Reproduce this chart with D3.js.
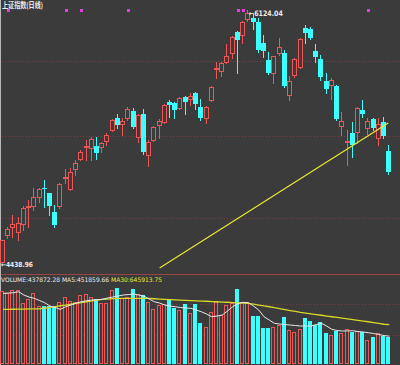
<!DOCTYPE html>
<html><head><meta charset="utf-8">
<script src="https://cdn.jsdelivr.net/npm/d3@7"></script>
<style>html,body{margin:0;padding:0;background:#3b3b3b;}svg{display:block}</style>
</head><body>
<svg id="c" width="400" height="365"></svg>
<script>
const title = "上证指数(日线)";
const opens  = [4439.0,4619.5,4673.0,4639.6,4693.1,4806.7,4813.4,4873.6,4933.8,4900.4,4773.3,4813.4,5000.7,4927.1,5060.8,5127.7,5208.0,5201.3,5214.6,5208.0,5248.1,5321.6,5401.9,5361.8,5401.9,5448.7,5274.8,5428.6,5154.5,5254.8,5355.1,5375.1,5508.9,5502.2,5468.7,5542.3,5528.9,5569.0,5475.4,5401.9,5522.2,5729.5,5716.2,5776.3,5836.5,5976.9,5956.9,6063.9,6070.5,6043.8,5903.4,5789.7,5702.8,5836.5,5836.5,5555.7,5689.4,5742.9,6003.7,5997.0,5849.9,5796.4,5649.3,5622.5,5615.9,5348.4,5241.4,5301.6,5308.3,5455.4,5335.0,5395.2,5268.1,5375.1,5181.2];
const highs  = [4586.1,4673.0,4753.2,4739.9,4813.4,4853.5,4933.8,4933.8,4987.3,4900.4,4820.1,4967.2,5060.8,5067.5,5121.0,5187.9,5254.8,5274.8,5274.8,5241.4,5301.6,5395.2,5428.6,5401.9,5475.4,5468.7,5428.6,5462.1,5254.8,5348.4,5395.2,5495.5,5522.2,5508.9,5542.3,5549.0,5569.0,5575.7,5528.9,5482.1,5615.9,5776.3,5776.3,5896.7,5950.2,5983.6,6050.5,6124.04,6097.3,6070.5,5956.9,5843.2,5816.5,5936.8,5856.6,5682.7,5803.1,5936.8,6023.7,6010.4,5896.7,5823.1,5702.8,5669.3,5622.5,5442.0,5321.6,5375.1,5475.4,5522.2,5401.9,5401.9,5401.9,5408.6,5221.3];
const lows   = [4438.96,4599.5,4606.1,4586.1,4652.9,4673.0,4786.7,4840.2,4806.7,4753.2,4673.0,4800.1,4967.2,4920.4,5020.7,5121.0,5121.0,5121.0,5127.7,5174.5,5221.3,5314.9,5335.0,5288.2,5388.5,5335.0,5241.4,5161.1,5080.9,5248.1,5268.1,5368.4,5408.6,5401.9,5462.1,5428.6,5488.8,5462.1,5388.5,5368.4,5515.5,5669.3,5682.7,5769.6,5803.1,5702.8,5903.4,6050.5,5997.0,5843.2,5809.8,5696.1,5635.9,5823.1,5609.2,5522.2,5676.0,5736.2,5903.4,5930.1,5776.3,5656.0,5569.0,5528.9,5388.5,5288.2,5087.6,5141.1,5234.7,5408.6,5294.9,5321.6,5221.3,5268.1,5027.4];
const closes = [4586.1,4659.6,4693.1,4699.8,4800.1,4813.4,4873.6,4927.1,4927.1,4813.4,4686.4,4960.5,5007.4,5040.8,5101.0,5174.5,5214.6,5261.4,5167.8,5234.7,5288.2,5388.5,5355.1,5381.8,5462.1,5341.7,5421.9,5174.5,5241.4,5341.7,5381.8,5488.8,5488.8,5455.4,5535.6,5508.9,5549.0,5495.5,5401.9,5475.4,5609.2,5736.2,5769.6,5816.5,5943.5,5923.4,6043.8,6104.0,6043.8,5856.6,5849.9,5702.8,5816.5,5876.6,5615.9,5649.3,5796.4,5930.1,5970.2,5936.8,5809.8,5676.0,5595.8,5656.0,5395.2,5381.8,5248.1,5221.3,5468.7,5428.6,5381.8,5335.0,5361.8,5281.5,5040.8];
// volume in thousands
const volumes = [1212.6,1178.9,1229.4,1229.4,1010.5,1077.8,1178.9,959.9,959.9,959.9,959.9,1027.3,1111.5,1044.1,1027.3,1145.2,1162.0,1111.5,1077.8,1010.5,1010.5,1229.4,1263.1,1094.7,1111.5,1246.2,1162.0,1145.2,1027.3,909.4,976.8,993.6,1077.8,926.3,892.6,993.6,842.1,993.6,673.6,606.3,858.9,1027.3,808.4,976.8,1010.5,1246.2,1027.3,1027.3,791.5,791.5,589.4,589.4,606.3,640.0,774.7,555.8,522.1,572.6,757.8,707.3,640.0,690.5,505.2,471.5,538.9,505.2,572.6,522.1,538.9,522.1,387.3,437.9,505.2,454.7,437.9];
const ma5 = [1173.8,1178.9,1183.9,1200.8,1145.2,1111.5,1089.6,1052.6,1015.5,959.9,934.7,904.4,948.1,976.8,1010.5,1032.4,1049.2,1061.0,1066.0,1072.8,1094.7,1111.5,1128.3,1145.2,1153.6,1162.0,1145.2,1128.3,1077.8,1032.4,1010.5,976.8,959.9,948.1,934.7,926.3,921.2,892.6,863.9,825.2,779.7,791.5,808.4,875.7,948.1,1002.0,1022.2,1015.5,959.9,892.6,779.7,724.2,668.6,656.8,648.4,640.0,631.5,623.1,623.1,623.1,648.4,668.6,623.1,567.5,547.3,538.9,540.6,544.0,530.5,522.1,510.3,496.8,480.0,463.1,451.9];
const ma30 = [904.4,904.4,906.0,907.7,909.4,911.1,912.8,914.5,926.3,938.0,951.5,965.0,976.8,990.2,1005.4,1018.9,1032.4,1045.8,1059.3,1072.8,1077.8,1084.6,1089.6,1089.6,1089.6,1089.6,1089.6,1089.6,1089.6,1082.9,1077.8,1072.8,1069.4,1064.4,1061.0,1055.9,1052.6,1047.5,1044.1,1040.8,1035.7,1032.4,1027.3,1023.9,1018.9,1013.8,1008.8,1005.4,991.9,976.8,963.3,948.1,933.0,916.1,899.3,884.2,869.0,853.8,842.1,828.6,816.8,805.0,791.5,779.7,767.9,756.2,744.4,732.6,719.1,707.3,695.5,682.1,668.6,653.4,645.9];
const markerIdx = [1, 12, 15, 24, 45, 46, 70];
const priceGrid = [5783, 5281, 4733];
const volGrid = [1000, 480];
const trend = [{i: 30, p: 4399}, {i: 73.8, p: 5368}];
const volLabel = "VOLUME:437872.28 MA5:451859.66";
const ma30Label = "MA30:645913.75";
const hiLabel = "6124.04", loLabel = "4438.96";

const RED = "#ee5555", CYAN = "#3cffff", BG = "#3b3b3b";
const svg = d3.select("#c");
svg.append("rect").attr("width", 400).attr("height", 365).attr("fill", BG);

const n = opens.length;
const x = d3.scaleLinear().domain([0, n - 1]).range([3, 389.3]);
const y = d3.scaleLinear().domain([4438.96, 6124.04]).range([262, 10]);
const yv = d3.scaleLinear().domain([0, 1500]).range([363, 274]);

svg.append("g").selectAll("line").data(priceGrid).join("line")
  .attr("x1", 2).attr("x2", 400)
  .attr("y1", d => Math.round(y(d)) + 0.5).attr("y2", d => Math.round(y(d)) + 0.5)
  .attr("stroke", "#7e3c3c").attr("stroke-dasharray", "1,2");
svg.append("g").selectAll("line").data(volGrid).join("line")
  .attr("x1", 2).attr("x2", 400)
  .attr("y1", d => Math.round(yv(d)) + 0.5).attr("y2", d => Math.round(yv(d)) + 0.5)
  .attr("stroke", "#7e3c3c").attr("stroke-dasharray", "1,2");
svg.append("line").attr("x1", 0).attr("x2", 400).attr("y1", 274.5).attr("y2", 274.5)
  .attr("stroke", "#9a4444");
svg.append("line").attr("x1", 0.5).attr("x2", 0.5).attr("y1", 0).attr("y2", 365)
  .attr("stroke", "#b8b8b8");

const idx = d3.range(n);
const gC = svg.append("g").attr("shape-rendering", "crispEdges");
gC.selectAll("line.w").data(idx).join("line").attr("class", "w")
  .attr("x1", i => Math.round(x(i)) - 0.5).attr("x2", i => Math.round(x(i)) - 0.5)
  .attr("y1", i => Math.round(y(highs[i]))).attr("y2", i => Math.round(y(lows[i])) + 1)
  .attr("stroke", i => closes[i] >= opens[i] ? RED : CYAN);
gC.selectAll("rect.b").data(idx).join("rect").attr("class", "b")
  .each(function(i) {
    const up = closes[i] >= opens[i];
    const c = Math.round(x(i));
    const t = Math.round(y(Math.max(opens[i], closes[i])));
    const b = Math.round(y(Math.min(opens[i], closes[i])));
    const s = d3.select(this);
    if (up) {
      s.attr("x", c - 2.5).attr("width", 4).attr("y", t + 0.5).attr("height", Math.max(0, b - t))
        .attr("fill", BG).attr("stroke", RED);
    } else {
      s.attr("x", c - 3).attr("width", 5).attr("y", t).attr("height", Math.max(1, b - t))
        .attr("fill", CYAN);
    }
  });

svg.append("line")
  .attr("x1", x(trend[0].i)).attr("y1", y(trend[0].p))
  .attr("x2", x(trend[1].i)).attr("y2", y(trend[1].p))
  .attr("stroke", "#ecec30").attr("stroke-width", 1.1);

svg.append("g").selectAll("rect").data(markerIdx).join("rect")
  .attr("x", i => Math.round(x(i)) - 1).attr("y", 9).attr("width", 3).attr("height", 3)
  .attr("fill", "#e040e0");

const gV = svg.append("g").attr("shape-rendering", "crispEdges");
gV.selectAll("rect").data(idx).join("rect")
  .each(function(i) {
    const up = closes[i] >= opens[i];
    const c = Math.round(x(i));
    const t = Math.round(yv(volumes[i]));
    const s = d3.select(this);
    if (up) {
      s.attr("x", c - 2.5).attr("width", 3).attr("y", t + 0.5).attr("height", 363 - t)
        .attr("fill", BG).attr("stroke", RED);
    } else {
      s.attr("x", c - 3).attr("width", 4).attr("y", t).attr("height", 364 - t).attr("fill", CYAN);
    }
  });

const lineGen = arr => d3.line().x((d, i) => x(i)).y(d => yv(d))(arr);
svg.append("path").attr("d", lineGen(ma30)).attr("fill", "none").attr("stroke", "#d8d82a").attr("stroke-width", 1.3);
svg.append("path").attr("d", lineGen(ma5)).attr("fill", "none").attr("stroke", "#e8e8e8").attr("stroke-width", 1);

const font = "'DejaVu Sans', sans-serif";
svg.append("text").attr("x", 2).attr("y", 8).attr("fill", "#ececec")
  .attr("font-family", "'Noto Sans CJK SC', sans-serif").attr("font-size", 7.5).attr("font-weight", "bold")
  .attr("textLength", 41).attr("lengthAdjust", "spacingAndGlyphs").text(title);
const hiI = highs.indexOf(d3.max(highs)), loI = lows.indexOf(d3.min(lows));
svg.append("text").attr("x", x(hiI) + 0.5).attr("y", y(highs[hiI]) + 6).attr("fill", "#ececec")
  .attr("font-family", font).attr("font-size", 7.5).attr("font-weight", "bold")
  .attr("textLength", 34).attr("lengthAdjust", "spacingAndGlyphs").text("←" + hiLabel);
svg.append("text").attr("x", x(loI) - 2).attr("y", y(lows[loI]) + 4.5).attr("fill", "#ececec")
  .attr("font-family", font).attr("font-size", 7).attr("font-weight", "bold")
  .attr("textLength", 32).attr("lengthAdjust", "spacingAndGlyphs").text("←" + loLabel);
const vt = svg.append("text").attr("x", 1).attr("y", 281.5).attr("font-family", font).attr("font-size", 6.2)
  .attr("textLength", 161).attr("lengthAdjust", "spacingAndGlyphs");
vt.append("tspan").attr("fill", "#ececec").text(volLabel + " ");
vt.append("tspan").attr("fill", "#ecec30").text(ma30Label);
</script>
</body></html>
